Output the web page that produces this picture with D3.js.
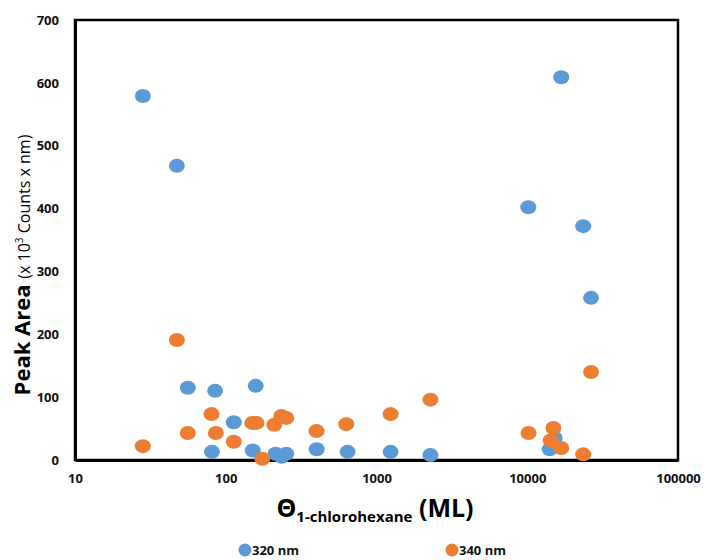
<!DOCTYPE html>
<html>
<head>
<meta charset="utf-8">
<script src="https://cdn.jsdelivr.net/npm/d3@7"></script>
<style>
  body { margin: 0; background: #fff; }
  text { font-family: "Open Sans", "Liberation Sans", sans-serif; }
</style>
</head>
<body>
<svg id="chart" width="704" height="560"></svg>
<script>
// 320 nm series
var x320 = [28.2, 47.4, 56, 85, 158, 113, 81, 151, 214, 235, 252, 401, 643, 1240, 2280, 14100, 15200, 26500, 16800, 10160, 23500]
var y320 = [579, 468, 115, 110, 118, 60, 13, 15, 10, 5, 10, 17, 13, 13, 8, 17, 35, 258, 609, 402, 372]

// 340 nm series
var x340 = [28.2, 47.4, 56, 80.5, 86, 113, 150, 160, 175, 210, 234, 252, 400, 630, 1240, 2280, 10200, 14900, 14300, 16800, 23500, 26500]
var y340 = [22, 191, 43, 73, 43, 29, 59, 59, 2, 56, 70, 67, 46, 57, 73, 96, 43, 51, 31, 19, 9, 140]

var xTicks = [10, 100, 1000, 10000, 100000]
var yTicks = [0, 100, 200, 300, 400, 500, 600, 700]

var dimensions = {
    width: 704,
    height: 560,
    margin: { top: 20, bottom: 100, right: 26, left: 75 }
}
var plotW = dimensions.width - dimensions.margin.left - dimensions.margin.right
var plotH = dimensions.height - dimensions.margin.top - dimensions.margin.bottom

var svg = d3.select("#chart")

var xScale = d3.scaleLog()
               .domain([10, 100000])
               .range([0, plotW])

var yScale = d3.scaleLinear()
               .domain([0, 700])
               .range([plotH, 0])

var g = svg.append("g")
           .attr("transform", "translate(" + dimensions.margin.left + "," + dimensions.margin.top + ")")

// frame
g.append("rect")
 .attr("width", plotW)
 .attr("height", plotH)
 .attr("fill", "none")
 .attr("stroke", "#000")
 .attr("stroke-width", 2.5)

var xAxis = d3.axisBottom(xScale)
              .tickValues(xTicks)
              .tickFormat(d3.format("d"))
              .tickSize(0)
              .tickPadding(14)
var xg = g.append("g")
          .attr("transform", "translate(0," + plotH + ")")
          .call(xAxis)
xg.select(".domain").attr("stroke", "#000").attr("stroke-width", 3)

var yAxis = d3.axisLeft(yScale)
              .tickValues(yTicks)
              .tickSize(0)
              .tickPadding(16)
var yg = g.append("g").call(yAxis)
yg.select(".domain").attr("stroke", "#000").attr("stroke-width", 3)

svg.selectAll(".tick text")
   .style("font-size", "13px")
   .style("font-weight", "bold")
   .attr("fill", "#111")

// points
var d320 = x320.map(function(d, i){ return {x: d, y: y320[i]} })
var d340 = x340.map(function(d, i){ return {x: d, y: y340[i]} })

g.selectAll(".p320")
 .data(d320)
 .enter()
 .append("ellipse")
 .attr("cx", function(d){ return xScale(d.x) })
 .attr("cy", function(d){ return yScale(d.y) })
 .attr("rx", 8)
 .attr("ry", 7)
 .attr("fill", "#5B9BD5")

g.selectAll(".p340")
 .data(d340)
 .enter()
 .append("ellipse")
 .attr("cx", function(d){ return xScale(d.x) })
 .attr("cy", function(d){ return yScale(d.y) })
 .attr("rx", 8)
 .attr("ry", 7)
 .attr("fill", "#ED7D31")

// y title
var yt = svg.append("text")
            .attr("transform", "translate(30,265) rotate(-90)")
            .attr("text-anchor", "middle")
            .attr("fill", "#000")
yt.append("tspan").style("font-size", "22px").style("font-weight", "bold").text("Peak Area ")
yt.append("tspan").style("font-size", "16px").text("(x 10")
yt.append("tspan").style("font-size", "10px").attr("dy", -7).text("3")
yt.append("tspan").style("font-size", "16px").attr("dy", 7).text(" Counts x nm)")

// x title
var xt = svg.append("text")
            .attr("x", 375)
            .attr("y", 517)
            .attr("text-anchor", "middle")
            .attr("fill", "#000")
            .style("font-weight", "bold")
xt.append("tspan").style("font-size", "25px").text("Θ")
xt.append("tspan").style("font-size", "15px").attr("dy", 5).text("1-chlorohexane")
xt.append("tspan").style("font-size", "25px").attr("dy", -5).text(" (ML)")

// legend
var legend = [{label: "320 nm", color: "#5B9BD5", x: 245}, {label: "340 nm", color: "#ED7D31", x: 452}]
var lg = svg.selectAll(".legend")
            .data(legend)
            .enter()
            .append("g")
            .attr("transform", function(d){ return "translate(" + d.x + ",550)" })
lg.append("circle").attr("r", 6.5).attr("fill", function(d){ return d.color })
lg.append("text")
  .attr("x", 7)
  .attr("y", 5)
  .style("font-size", "13px")
  .style("font-weight", "bold")
  .attr("fill", "#111")
  .text(function(d){ return d.label })
</script>
</body>
</html>
